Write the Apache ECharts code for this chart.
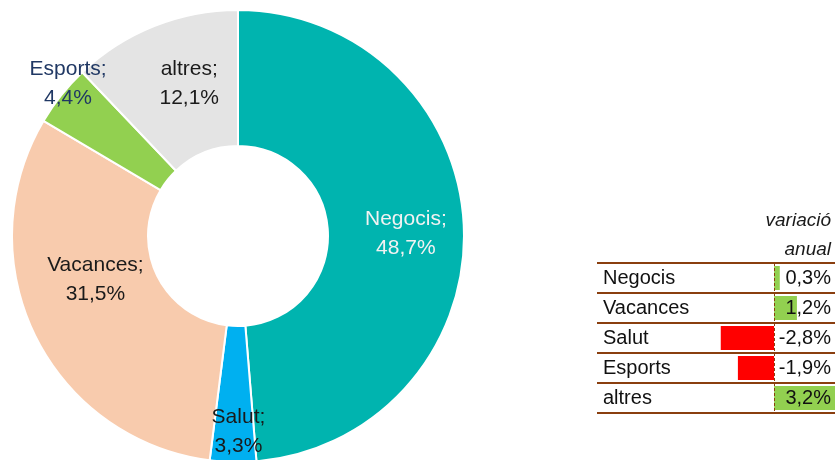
<!DOCTYPE html>
<html>
<head>
<meta charset="utf-8">
<script src="https://cdn.jsdelivr.net/npm/echarts@6/dist/echarts.min.js"></script>
<style>
  html, body { margin: 0; padding: 0; background: #fff; }
  #main { width: 835px; height: 460px; }
</style>
</head>
<body>
<div id="main"></div>
<script>
// donut: share of trips by purpose
var pieNames = ['Negocis', 'Salut', 'Vacances', 'Esports', 'altres'];
var pieShares = [48.7, 3.3, 31.5, 4.4, 12.1];
var pieColors = ['#00B4AF', '#00B0F0', '#F8CBAD', '#92D050', '#E4E4E4'];
var pieLabelColors = ['#F2F2F2', '#1A1A1A', '#1A1A1A', '#203864', '#1A1A1A'];
// label nudges from the slice centre, [dx, dy]
var pieLabelShift = [[7, 4], [4, 35], [2, -27], [-44, -52], [11, -3]];

// small table: annual variation
var varCategories = ['Negocis', 'Vacances', 'Salut', 'Esports', 'altres'];
var varValues = [0.3, 1.2, -2.8, -1.9, 3.2];

function fmt(v) {
    return v.toFixed(1).replace('.', ',') + '%';
}

var font = '"Liberation Sans", Arial, sans-serif';
var brown = '#8A3F0F';

var chart = echarts.init(document.getElementById('main'));

var pieData = [];
for (var i = 0; i < pieNames.length; i++) {
    pieData.push({
        name: pieNames[i],
        value: pieShares[i],
        itemStyle: { color: pieColors[i] },
        label: { color: pieLabelColors[i] }
    });
}

var barData = [];
for (var j = 0; j < varValues.length; j++) {
    barData.push({
        value: varValues[j],
        itemStyle: { color: varValues[j] >= 0 ? '#92D050' : '#FF0000' }
    });
}

var option = {
    animation: false,
    backgroundColor: '#fff',
    title: {
        text: 'variació\nanual',
        left: 826,
        top: 201,
        textAlign: 'right',
        textStyle: {
            fontFamily: font,
            fontSize: 19,
            fontStyle: 'italic',
            fontWeight: 'normal',
            color: '#1A1A1A',
            lineHeight: 29
        }
    },
    grid: {
        left: 597,
        right: 0,
        top: 263,
        height: 150
    },
    xAxis: {
        type: 'value',
        min: -9.3,
        max: 3.2,
        show: false
    },
    yAxis: [
        {
            type: 'category',
            data: varCategories,
            inverse: true,
            position: 'left',
            axisLine: { show: false },
            axisTick: { show: false },
            splitLine: {
                show: true,
                interval: 0,
                lineStyle: { color: brown, width: 2 }
            },
            axisLabel: {
                inside: true,
                margin: 6,
                align: 'left',
                fontFamily: font,
                fontSize: 20,
                color: '#111'
            }
        },
        {
            type: 'category',
            data: varCategories,
            inverse: true,
            position: 'right',
            z: 10,
            axisLine: { show: false },
            axisTick: { show: false },
            splitLine: { show: false },
            axisLabel: {
                inside: true,
                margin: 4,
                align: 'right',
                fontFamily: font,
                fontSize: 20,
                color: '#111',
                formatter: function (val, idx) {
                    return fmt(varValues[idx]);
                }
            }
        }
    ],
    series: [
        {
            type: 'pie',
            center: [238, 236],
            radius: [90, 226],
            startAngle: 90,
            clockwise: true,
            avoidLabelOverlap: false,
            silent: true,
            itemStyle: { borderColor: '#fff', borderWidth: 2 },
            label: {
                show: true,
                position: 'inside',
                fontFamily: font,
                fontSize: 21,
                lineHeight: 29,
                align: 'center',
                formatter: function (p) {
                    return p.name + ';\n' + fmt(p.value);
                }
            },
            labelLine: { show: false },
            labelLayout: function (p) {
                var s = pieLabelShift[p.dataIndex];
                return { dx: s[0], dy: s[1] };
            },
            data: pieData
        },
        {
            type: 'bar',
            xAxisIndex: 0,
            yAxisIndex: 0,
            barWidth: 24,
            silent: true,
            data: barData,
            markLine: {
                silent: true,
                symbol: 'none',
                label: { show: false },
                lineStyle: { color: brown, width: 1, type: [3, 2] },
                data: [{ xAxis: 0 }]
            }
        }
    ]
};

chart.setOption(option);
</script>
</body>
</html>
